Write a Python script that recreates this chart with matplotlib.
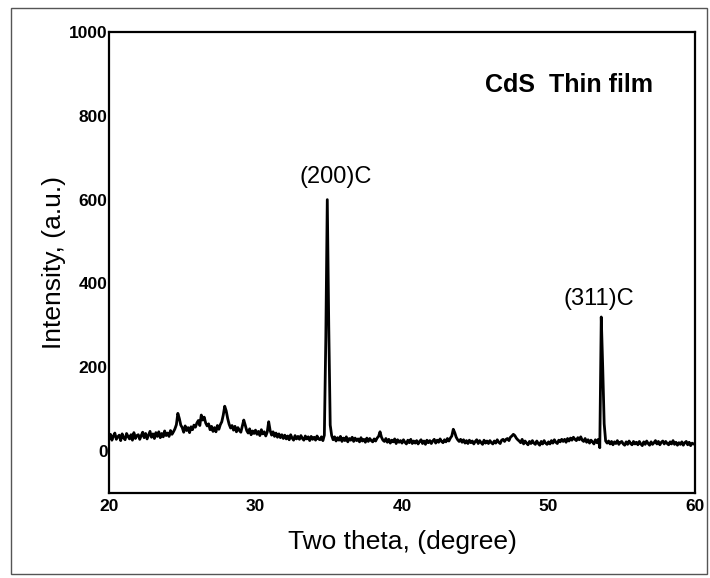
import numpy as np
import matplotlib.pyplot as plt
from matplotlib.patches import Rectangle

plt.rcParams['font.family'] = ['Liberation Sans', 'DejaVu Sans']

# two theta grid, 0.1 degree steps from 20 to 60
TWO_THETA = np.round(np.arange(200, 601) / 10.0, 1)

# intensity, one row per degree
INTENSITY = [
    30, 40, 26, 36, 43, 28, 34, 38, 25, 41,      # 20
    32, 27, 42, 35, 29, 39, 26, 44, 30, 37,      # 21
    39, 28, 37, 45, 32, 42, 29, 38, 47, 33,      # 22
    41, 30, 44, 35, 46, 32, 42, 34, 48, 37,      # 23
    43, 35, 49, 40, 46, 53, 63, 90, 78, 62,      # 24
    56, 45, 60, 49, 56, 44, 58, 51, 62, 57,      # 25
    67, 73, 61, 86, 74, 81, 67, 60, 65, 51,      # 26
    59, 47, 56, 46, 61, 52, 63, 70, 86, 107,     # 27
    96, 78, 64, 55, 61, 50, 59, 46, 56, 49,      # 28
    45, 59, 74, 62, 49, 43, 53, 39, 48, 42,      # 29
    50, 40, 47, 37, 51, 41, 46, 36, 45, 70,      # 30
    49, 38, 46, 35, 43, 33, 41, 32, 39, 30,      # 31
    38, 29, 36, 27, 39, 31, 26, 37, 29, 35,      # 32
    28, 37, 30, 26, 36, 29, 34, 25, 35, 28,      # 33
    33, 26, 36, 29, 27, 34, 25, 38, 270, 600,    # 34
    300, 62, 37, 27, 34, 24, 32, 26, 35, 23,     # 35
    31, 25, 34, 22, 30, 26, 33, 23, 31, 25,      # 36
    29, 22, 32, 24, 28, 21, 31, 23, 30, 25,      # 37
    22, 29, 24, 31, 35, 46, 33, 26, 23, 30,      # 38
    21, 28, 19, 26, 22, 29, 18, 27, 21, 25,      # 39
    19, 27, 21, 17, 26, 20, 28, 18, 24, 19,      # 40
    25, 17, 23, 27, 18, 24, 16, 26, 20, 25,      # 41
    18, 24, 28, 19, 26, 21, 29, 23, 20, 27,      # 42
    22, 30, 24, 31, 36, 52, 44, 33, 27, 23,      # 43
    28, 21, 27, 19, 25, 18, 26, 20, 24, 17,      # 44
    23, 27, 18, 25, 20, 16, 26, 19, 24, 18,      # 45
    25, 20, 17, 24, 19, 27, 21, 18, 26, 28,      # 46
    23, 28, 30, 25, 33, 36, 40, 37, 31, 27,      # 47
    24, 20, 28, 17, 24, 19, 15, 23, 18, 25,      # 48
    19, 16, 24, 18, 14, 23, 17, 25, 19, 16,      # 49
    22, 17, 25, 19, 27, 21, 18, 26, 22, 28,      # 50
    23, 28, 21, 30, 24, 31, 26, 33, 28, 25,      # 51
    32, 27, 34, 26, 23, 30, 21, 27, 19, 26,      # 52
    22, 17, 27, 20, 28, 8, 320, 200, 65, 24,     # 53
    19, 24, 17, 23, 15, 22, 18, 25, 16, 21,      # 54
    23, 17, 14, 22, 16, 24, 18, 15, 23, 17,      # 55
    21, 15, 23, 17, 13, 22, 16, 24, 18, 14,      # 56
    22, 16, 20, 25, 17, 23, 15, 21, 24, 17,      # 57
    23, 18, 15, 22, 17, 25, 16, 21, 14, 20,      # 58
    16, 22, 14, 20, 23, 15, 21, 13, 19, 17,      # 59
    16,                                          # 60
]

PEAK_LABELS = ['(200)C', '(311)C']
LABEL_X = [35.45, 53.4]
LABEL_Y = [654, 362]
X_TICKS = [20, 30, 40, 50, 60]
Y_TICKS = [0, 200, 400, 600, 800, 1000]

fig = plt.figure(figsize=(7.1, 5.78), dpi=100)
ax = fig.add_axes([0.1535, 0.1471, 0.8254, 0.7975])

ax.plot(TWO_THETA, INTENSITY, color='black', lw=2.0)

ax.set_xlim(20, 60)
ax.set_ylim(-100, 1000)
ax.set_xticks(X_TICKS)
ax.set_yticks(Y_TICKS)
ax.tick_params(length=0, labelsize=12.5)
ax.tick_params(axis='y', pad=1)
ax.tick_params(axis='x', pad=4)
for lbl in ax.get_xticklabels() + ax.get_yticklabels():
    lbl.set_fontweight('bold')
for sp in ax.spines.values():
    sp.set_linewidth(1.6)

ax.set_xlabel('Two theta, (degree)', fontsize=19, labelpad=12)
ax.set_ylabel('Intensity, (a.u.)', fontsize=19, labelpad=2)

for lbl, lx, ly in zip(PEAK_LABELS, LABEL_X, LABEL_Y):
    ax.text(lx, ly, lbl, fontsize=17, ha='center', va='center')

ax.text(0.785, 0.885, 'CdS  Thin film', transform=ax.transAxes, fontsize=18,
        fontweight='bold', ha='center', va='center')

# grey frame around the whole picture
fig.patches.append(Rectangle((11 / 710, 4 / 578), 696 / 710, 566 / 578,
                             transform=fig.transFigure, fill=False,
                             edgecolor='#555555', lw=1))

fig.savefig('out.png', dpi=100)
